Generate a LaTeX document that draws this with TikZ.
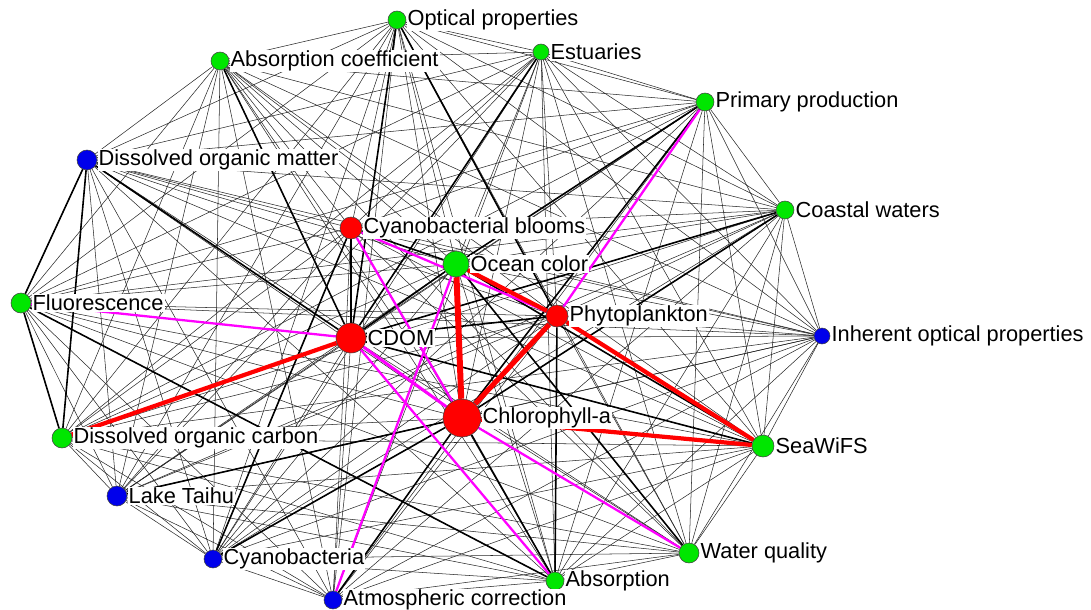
\documentclass[tikz,border=0pt]{standalone}
\usepackage{fontspec}
\setmainfont{Liberation Sans}
\usetikzlibrary{backgrounds}
\definecolor{kwgreen}{RGB}{0,230,0}
\definecolor{kwblue}{RGB}{0,0,235}
\definecolor{kwmag}{RGB}{255,0,255}
\tikzset{
  kw/.style={circle,draw=black!75,line width=0.3pt,inner sep=0pt,minimum size=#1*0.04cm},
  lbl/.style={anchor=west,fill=white,inner sep=0.6pt,font=\fontsize{12.4}{14}\selectfont},
  weak/.style={black!85,line width=0.3pt},
  firm/.style={black,line width=0.9pt},
  pink/.style={kwmag,line width=1.3pt},
  strong/.style={red,line width=2.4pt}
}
\begin{document}
\begin{tikzpicture}[x=0.02cm,y=-0.02cm]
    \useasboundingbox (0,0) rectangle (1091,609);

    % keywords
    \node[kw=9,fill=kwgreen] (opt) at (397,20) {};
    \node[kw=8,fill=kwgreen] (est) at (541,52) {};
    \node[kw=9,fill=kwgreen] (absc) at (220,61) {};
    \node[kw=9,fill=kwgreen] (pp) at (705,102) {};
    \node[kw=10,fill=kwblue] (dom) at (87,160) {};
    \node[kw=9,fill=kwgreen] (cw) at (785,210) {};
    \node[kw=11,fill=red] (cyb) at (351,228) {};
    \node[kw=13,fill=kwgreen] (oc) at (456,264) {};
    \node[kw=10,fill=kwgreen] (flu) at (21,303) {};
    \node[kw=11,fill=red] (phy) at (557,316) {};
    \node[kw=15,fill=red] (cdom) at (351,338) {};
    \node[kw=8,fill=kwblue] (iop) at (822,336) {};
    \node[kw=19,fill=red] (chl) at (462,418) {};
    \node[kw=10,fill=kwgreen] (doc) at (62,438) {};
    \node[kw=11,fill=kwgreen] (sea) at (763,446) {};
    \node[kw=10,fill=kwblue] (lt) at (117,496) {};
    \node[kw=9,fill=kwblue] (cyano) at (213,559) {};
    \node[kw=10,fill=kwgreen] (wq) at (689,553) {};
    \node[kw=9,fill=kwgreen] (abs) at (555,581) {};
    \node[kw=9,fill=kwblue] (atm) at (333,600) {};

    \begin{pgfonlayer}{background}
    % all co-occurrences
    \foreach \a [count=\i] in {opt,est,absc,pp,dom,cw,cyb,oc,flu,phy,cdom,iop,chl,doc,sea,lt,cyano,wq,abs,atm}{
        \foreach \b [count=\j] in {opt,est,absc,pp,dom,cw,cyb,oc,flu,phy,cdom,iop,chl,doc,sea,lt,cyano,wq,abs,atm}{
            \ifnum\j>\i\relax \draw[weak] (\a) -- (\b); \fi
        }
    }
    % frequent pairs
    \foreach \a/\b in {dom/cdom,absc/cdom,est/cdom,opt/cdom,opt/phy,pp/chl,pp/oc,cw/chl,cw/cdom,lt/chl,cyano/chl,cyano/cyb,flu/abs,phy/abs,atm/chl,chl/abs,oc/wq,oc/sea,cdom/phy,oc/cdom,cyb/cdom,cyb/oc,cdom/sea,dom/flu,flu/doc,dom/doc}
        \draw[firm] (\a) -- (\b);
    \foreach \a/\b in {flu/cdom,pp/phy,cyb/phy,cyb/chl,oc/atm,chl/wq,cdom/abs}
        \draw[pink] (\a) -- (\b);
    \draw[pink,line width=1.7pt] (cdom) -- (chl);
    \foreach \a/\b in {chl/sea,cdom/doc,oc/phy,phy/sea}
        \draw[strong] (\a) -- (\b);
    \draw[strong,line width=2.9pt] (chl) -- (phy);
    \draw[strong,line width=3.4pt] (chl) -- (oc);
    \end{pgfonlayer}

    % labels
    \node[lbl] (opt-t) at (opt.east) {Optical properties};
    \node[lbl] (est-t) at (est.east) {Estuaries};
    \node[lbl] (absc-t) at (absc.east) {Absorption coefficient};
    \node[lbl] (pp-t) at (pp.east) {Primary production};
    \node[lbl] (dom-t) at (dom.east) {Dissolved organic matter};
    \node[lbl] (cw-t) at (cw.east) {Coastal waters};
    \node[lbl] (cyb-t) at (cyb.east) {Cyanobacterial blooms};
    \node[lbl] (oc-t) at (oc.east) {Ocean color};
    \node[lbl] (flu-t) at (flu.east) {Fluorescence};
    \node[lbl] (phy-t) at (phy.east) {Phytoplankton};
    \node[lbl] (cdom-t) at (cdom.east) {CDOM};
    \node[lbl] (iop-t) at (iop.east) {Inherent optical properties};
    \node[lbl] (chl-t) at (chl.east) {Chlorophyll-a};
    \node[lbl] (doc-t) at (doc.east) {Dissolved organic carbon};
    \node[lbl] (sea-t) at (sea.east) {SeaWiFS};
    \node[lbl] (lt-t) at (lt.east) {Lake Taihu};
    \node[lbl] (cyano-t) at (cyano.east) {Cyanobacteria};
    \node[lbl] (wq-t) at (wq.east) {Water quality};
    \node[lbl] (abs-t) at (abs.east) {Absorption};
    \node[lbl] (atm-t) at (atm.east) {Atmospheric correction};
\end{tikzpicture}
\end{document}
